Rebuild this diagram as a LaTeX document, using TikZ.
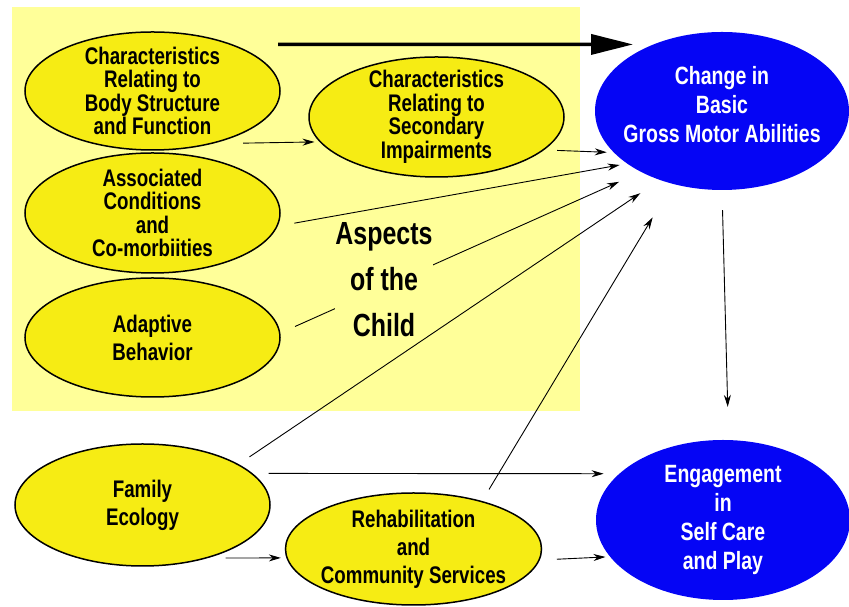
\documentclass[tikz,border=0pt]{standalone}
\usepackage{fontspec}
\setmainfont{Liberation Sans}[FakeStretch=0.78]
\usetikzlibrary{shapes.geometric, arrows.meta}
\definecolor{childbg}{RGB}{255, 255, 153}
\definecolor{ovalyellow}{RGB}{246, 236, 20}
\definecolor{outcomeblue}{RGB}{5, 5, 245}

\begin{document}
\begin{tikzpicture}[x=1pt, y=1pt,
  aspectoval/.style={ellipse, draw=black, line width=1.5pt, fill=ovalyellow,
                     minimum width=255pt, minimum height=119pt, inner sep=0pt},
  outcomeoval/.style={ellipse, fill=outcomeblue, minimum width=254pt,
                      minimum height=159pt, inner sep=0pt},
  ovaltext/.style={align=center, inner sep=0pt, font=\bfseries\fontsize{24}{23.5}\selectfont},
  ovaltextwide/.style={ovaltext, font=\bfseries\fontsize{24}{28}\selectfont},
  bluetext/.style={align=center, inner sep=0pt, text=white,
                   font=\bfseries\fontsize{25}{29}\selectfont},
  link/.style={line width=0.9pt, -{Stealth[length=12pt, width=7pt]}},
]
\useasboundingbox (0, 0) rectangle (849, 607);

% Aspects of the child
\fill[childbg] (12, 196) rectangle (580, 600);

\node[aspectoval, minimum height=118pt,
      label={[ovaltext]center:{Characteristics\\Relating to\\Body Structure\\and Function}}]
      (body) at (152.5, 516) {};
\node[aspectoval, minimum height=120pt,
      label={[ovaltext]center:{Associated\\Conditions\\and\\Co-morbiities}}]
      (assoc) at (152.5, 394) {};
\node[aspectoval,
      label={[ovaltextwide]center:{Adaptive\\Behavior}}]
      (adapt) at (152.5, 269.5) {};
\node[aspectoval, minimum height=120pt,
      label={[ovaltext]center:{Characteristics\\Relating to\\Secondary\\Impairments}}]
      (second) at (436.5, 490) {};

% Environment
\node[aspectoval, minimum height=122pt,
      label={[ovaltextwide]center:{Family\\Ecology}}]
      (family) at (142.5, 102) {};
\node[aspectoval, minimum width=256pt, minimum height=112pt,
      label={[ovaltextwide]center:{Rehabilitation\\and\\Community Services}}]
      (rehab) at (413.5, 58) {};

% Outcomes
\node[outcomeoval, minimum height=158pt,
      label={[bluetext, yshift=6pt]center:{Change in\\Basic\\Gross Motor Abilities}}]
      (motor) at (722, 496) {};
\node[outcomeoval, minimum height=160pt,
      label={[bluetext]center:{Engagement\\in\\Self Care\\and Play}}]
      (engage) at (723, 87) {};

% Arrows into gross motor
\draw[line width=3.5pt, -{Triangle[length=42pt, width=20pt]},
      shorten <=45pt, shorten >=20pt] (body.30) -- (motor.136.6);
\draw[link, shorten <=30pt, shorten >=5pt] (body.319.2) -- (second.192.75);
\draw[link, shorten <=13pt, shorten >=7pt] (second.343.3) -- (motor.201.6);
\draw[link, shorten <=17pt, shorten >=7.5pt] (assoc.354.6) -- (motor.209.1);
\draw[link, shorten <=16pt, shorten >=24pt] (adapt.2.7) -- (motor.217.1);

\node[font=\bfseries\fontsize{32}{46}\selectfont, align=center, fill=childbg,
      inner sep=0pt] (aspects) at (384, 327.5) {Aspects\\of the\\Child};

\draw[link, shorten <=13pt, shorten >=23.5pt] (family.23.3) -- (motor.228.4);
\draw[link, shorten <=13.5pt, shorten >=39pt] (rehab.35.1) -- (motor.236.3);

% Arrows into engagement
\draw[link, shorten <=20pt, shorten >=33pt] (motor.270.4) -- (engage.86.6);
\draw[link, shorten <=16pt, shorten >=15.5pt] (family.16.7) -- (engage.156.4);
\draw[link, shorten <=17.5pt, shorten >=5.5pt] (family.321.1) -- (rehab.184.3);
\draw[link, shorten <=17pt, shorten >=4.5pt] (rehab.355.2) -- (engage.198.3);
\end{tikzpicture}
\end{document}
